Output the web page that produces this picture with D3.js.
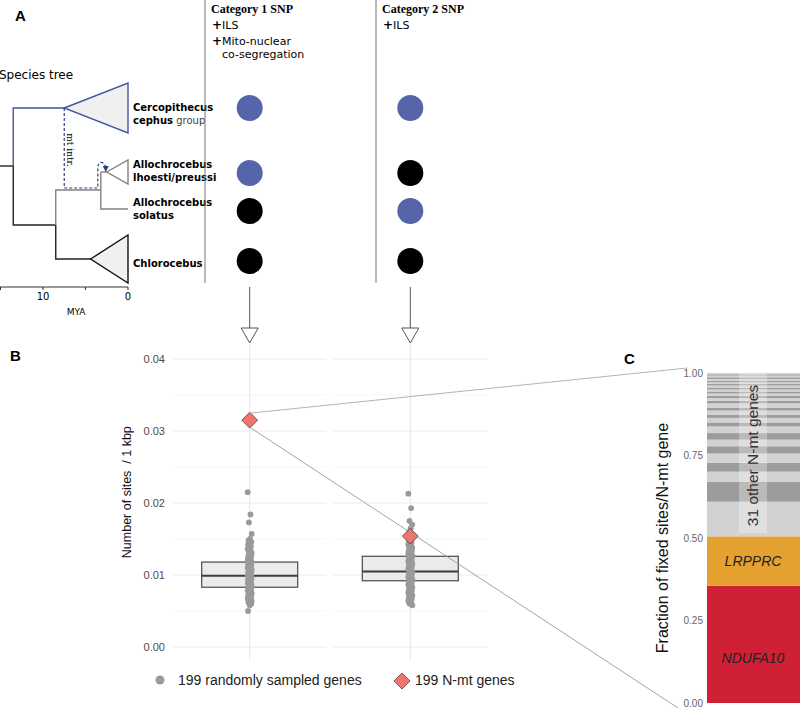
<!DOCTYPE html>
<html>
<head>
<meta charset="utf-8">
<script src="https://cdn.jsdelivr.net/npm/d3@7"></script>
<style>
body { margin: 0; background: #fff; }
svg { display: block; font-family: "Liberation Sans", Arial, sans-serif; }
</style>
</head>
<body>
<script>
// ---- data ----
var categories = ["Category 1 SNP", "Category 2 SNP"];
var categoryNotes = [["ILS", "Mito-nuclear", "co-segregation"], ["ILS"]];
var taxa = ["Cercopithecus", "Allochrocebus lhoesti", "Allochrocebus solatus", "Chlorocebus"];
// allele state per taxon: "c" = Cercopithecus-like (blue), "o" = other (black)
var cat1States = ["c", "c", "o", "o"];
var cat2States = ["c", "o", "c", "o"];

// node ages (MYA)
var rootAge = 13.5, cercoCrown = 7.5, alloChloroNode = 8.5, chloroCrown = 4.4, alloNode = 3.2, lhoestiCrown = 2.5;
var myaTicks = [15, 10, 5, 0];
var myaLabels = [10, 0];

var randomCat1 = [0.0215, 0.0184, 0.0173, 0.0157, 0.0150, 0.0148, 0.0146, 0.0144, 0.0142, 0.0140,
  0.0138, 0.0136, 0.0135, 0.0133, 0.0131, 0.0130, 0.0128, 0.0127, 0.0125, 0.0124, 0.0123, 0.0122,
  0.0121, 0.0120, 0.0119, 0.0118, 0.0117, 0.0116, 0.0115, 0.0114, 0.0113, 0.0112, 0.0111, 0.0110,
  0.0109, 0.0108, 0.0107, 0.0106, 0.0105, 0.0104, 0.0103, 0.0102, 0.0101, 0.0100, 0.0099, 0.0099,
  0.0098, 0.0097, 0.0096, 0.0095, 0.0094, 0.0093, 0.0092, 0.0091, 0.0090, 0.0089, 0.0088, 0.0087,
  0.0086, 0.0085, 0.0084, 0.0083, 0.0082, 0.0081, 0.0080, 0.0079, 0.0078, 0.0077, 0.0076, 0.0075,
  0.0074, 0.0073, 0.0072, 0.0071, 0.0070, 0.0069, 0.0068, 0.0067, 0.0066, 0.0065, 0.0064, 0.0063,
  0.0062, 0.0060, 0.0058, 0.0050];
var randomCat2 = [0.0213, 0.0193, 0.0175, 0.0170, 0.0165, 0.0160, 0.0150, 0.0148, 0.0146, 0.0145,
  0.0143, 0.0142, 0.0140, 0.0139, 0.0138, 0.0137, 0.0136, 0.0135, 0.0134, 0.0133, 0.0132, 0.0131,
  0.0130, 0.0129, 0.0128, 0.0127, 0.0126, 0.0125, 0.0124, 0.0123, 0.0122, 0.0121, 0.0120, 0.0119,
  0.0118, 0.0117, 0.0116, 0.0115, 0.0114, 0.0113, 0.0112, 0.0111, 0.0110, 0.0109, 0.0108, 0.0107,
  0.0106, 0.0105, 0.0104, 0.0103, 0.0102, 0.0101, 0.0100, 0.0099, 0.0098, 0.0097, 0.0096, 0.0095,
  0.0094, 0.0093, 0.0092, 0.0091, 0.0090, 0.0089, 0.0088, 0.0087, 0.0086, 0.0085, 0.0084, 0.0083,
  0.0082, 0.0081, 0.0080, 0.0079, 0.0078, 0.0077, 0.0076, 0.0075, 0.0074, 0.0073, 0.0072, 0.0071,
  0.0070, 0.0069, 0.0068, 0.0067, 0.0066, 0.0065, 0.0064, 0.0062, 0.0060, 0.0058];
var boxQ1 = [0.0083, 0.0092];
var boxMedian = [0.0099, 0.0105];
var boxQ3 = [0.0118, 0.0126];
var nmtValues = [0.0315, 0.0154];
var yTicksB = [0, 0.01, 0.02, 0.03, 0.04];
var yMinorB = [0.005, 0.015, 0.025, 0.035];

var fracGenes = ["NDUFA10", "LRPPRC"];
var fracValues = [0.355, 0.15];
var otherFrac = [0.105, 0.061, 0.030, 0.027, 0.028, 0.022, 0.020, 0.020, 0.020, 0.012, 0.014,
  0.010, 0.012, 0.008, 0.014, 0.008, 0.008, 0.007, 0.007, 0.006, 0.006, 0.006, 0.006, 0.005,
  0.005, 0.005, 0.005, 0.005, 0.005, 0.004, 0.004];
var yTicksC = [0, 0.25, 0.5, 0.75, 1];

// ---- svg ----
var W = 800, H = 708;
var svg = d3.select("body").append("svg").attr("width", W).attr("height", H);

var blue = "#5664a9", treeBlue = "#4653a3", brown = "#8d7d77";

// ================= Panel A =================
svg.append("text").attr("x", 15).attr("y", 21).text("A")
  .style("font-weight", "bold").style("font-size", "15px");

var xT = d3.scaleLinear().domain([15, 0]).range([0.5, 128]);
var rowY = d3.scaleOrdinal().domain(taxa).range([108, 172, 209, 259]);
var tree = svg.append("g").attr("fill", "none").attr("stroke-width", 1.4);

svg.append("text").attr("x", -1).attr("y", 79).text("Species tree").style("font-size", "12px")
  .style("font-family", "'DejaVu Sans', sans-serif");

var rootY = 166, alloChloroY = 225, alloY = 190;
function seg(d, col) { tree.append("path").attr("d", d).attr("stroke", col); }
seg("M0," + rootY + "H" + xT(rootAge), "#222");
seg("M" + xT(rootAge) + "," + rootY + "V" + rowY(taxa[0]) + "H" + xT(cercoCrown), treeBlue);
seg("M" + xT(rootAge) + "," + rootY + "V" + alloChloroY + "H" + xT(alloChloroNode), "#222");
seg("M" + xT(alloChloroNode) + "," + alloChloroY + "V" + rowY(taxa[3]) + "H" + xT(chloroCrown), "#222");
seg("M" + xT(alloChloroNode) + "," + alloChloroY + "V" + alloY + "H" + xT(alloNode), brown);
seg("M" + xT(alloNode) + "," + rowY(taxa[1]) + "V" + rowY(taxa[2]) + "H" + xT(0), brown);
seg("M" + xT(alloNode) + "," + rowY(taxa[1]) + "H" + xT(lhoestiCrown), brown);

function clade(age, y, half, col, fill) {
  tree.append("path")
    .attr("d", "M" + xT(age) + "," + y + "L" + xT(0) + "," + (y - half) + "V" + (y + half) + "Z")
    .attr("stroke", col).attr("fill", fill);
}
clade(cercoCrown, rowY(taxa[0]), 25, treeBlue, "#f0f0f0");
clade(lhoestiCrown, rowY(taxa[1]), 12, brown, "#fff");
clade(chloroCrown, rowY(taxa[3]), 24, "#111", "#f0f0f0");

// mt introgression
svg.append("defs").append("marker").attr("id", "ah").attr("viewBox", "0 0 10 10")
  .attr("refX", 5).attr("refY", 5).attr("markerWidth", 5).attr("markerHeight", 5).attr("orient", "auto")
  .append("path").attr("d", "M0,0L10,5L0,10Z").attr("fill", "#2c3c8c");
svg.append("path")
  .attr("d", "M" + xT(cercoCrown) + "," + rowY(taxa[0]) + "V188H" + (xT(alloNode) - 3) +
    "V168C" + (xT(alloNode) - 3) + ",160 " + (xT(lhoestiCrown) - 1) + ",161 " + (xT(lhoestiCrown) - 1) + ",169")
  .attr("fill", "none").attr("stroke", "#2c3c8c").attr("stroke-width", 1.2)
  .attr("stroke-dasharray", "3,2").attr("marker-end", "url(#ah)");
svg.append("text").attr("transform", "translate(67,150) rotate(90)")
  .attr("text-anchor", "middle").text("mt intr.")
  .style("font-size", "9px").style("font-family", "'DejaVu Serif', serif");

// tree axis
var axT = svg.append("g").attr("transform", "translate(0,287)");
axT.append("path").attr("d", "M0,0H" + xT(0)).attr("stroke", "#333");
axT.selectAll(".tk").data(myaTicks).enter().append("line")
  .attr("x1", xT).attr("x2", xT).attr("y1", 0).attr("y2", 3).attr("stroke", "#333");
axT.selectAll(".tl").data(myaLabels).enter().append("text")
  .attr("x", xT).attr("y", 13).attr("text-anchor", "middle").text(function (d) { return d; })
  .style("font-size", "10px").style("font-family", "'DejaVu Sans', sans-serif");
axT.append("text").attr("x", 76).attr("y", 28).attr("text-anchor", "middle").text("MYA")
  .style("font-size", "9px").style("font-family", "'DejaVu Sans', sans-serif");

// taxon labels
var lab = svg.append("g").style("font-family", "'DejaVu Sans', sans-serif").style("font-size", "10px")
  .style("font-weight", "bold");
function taxLabel(y, lines) {
  lines.forEach(function (l, i) {
    var t = lab.append("text").attr("x", 133).attr("y", y + i * 12.5);
    l.forEach(function (p) {
      t.append("tspan").text(p[0]).style("font-weight", p[1] ? "bold" : "normal")
        .attr("fill", p[1] ? "#000" : "#444");
    });
  });
}
taxLabel(rowY(taxa[0]) + 3, [[["Cercopithecus", 1]], [["cephus", 1], ["\u00a0group", 0]]]);
taxLabel(rowY(taxa[1]) - 4, [[["Allochrocebus", 1]], [["lhoesti/preussi", 1]]]);
taxLabel(rowY(taxa[2]) - 3, [[["Allochrocebus", 1]], [["solatus", 1]]]);
taxLabel(rowY(taxa[3]) + 8, [[["Chlorocebus", 1]]]);

// category columns
var xB = d3.scaleBand().domain(categories).range([173, 487]).paddingInner(0.045);
var cx = function (c) { return xB(c) + xB.bandwidth() / 2; };
var sepX = [205, 376];
var stateColor = { c: blue, o: "#000" };
var circleRows = [108, 173, 211, 261];

categories.forEach(function (c, ci) {
  svg.append("line").attr("x1", sepX[ci]).attr("x2", sepX[ci]).attr("y1", 0).attr("y2", 283)
    .attr("stroke", "#777").attr("stroke-width", 1);
  svg.append("text").attr("x", sepX[ci] + 6).attr("y", 13).text(c)
    .style("font-family", "'Liberation Serif', serif").style("font-weight", "bold").style("font-size", "12px");
  var notes = categoryNotes[ci];
  var yy = 29;
  notes.forEach(function (n, ni) {
    var newItem = !(ci === 0 && ni === 2);
    var t = svg.append("text").attr("x", sepX[ci] + (newItem ? 7 : 17)).attr("y", yy)
      .style("font-family", "'DejaVu Sans', sans-serif").style("font-size", "11px");
    if (newItem) t.append("tspan").text("+").style("font-weight", "bold").style("font-size", "12px");
    t.append("tspan").text(n);
    yy += (ni === 0 ? 15.5 : 13.5);
  });
  var st = ci === 0 ? cat1States : cat2States;
  svg.selectAll(".dot" + ci).data(st).enter().append("circle")
    .attr("cx", cx(c)).attr("cy", function (d, i) { return circleRows[i]; })
    .attr("r", 13).attr("fill", function (d) { return stateColor[d]; });
});

// ================= Panel B =================
var yB = d3.scaleLinear().domain([0, 0.04]).range([647, 359]);
svg.append("text").attr("x", 10).attr("y", 361).text("B")
  .style("font-weight", "bold").style("font-size", "15px");

var gB = svg.append("g");
categories.forEach(function (c) {
  gB.selectAll(null).data(yMinorB).enter().append("line")
    .attr("x1", xB(c)).attr("x2", xB(c) + xB.bandwidth()).attr("y1", yB).attr("y2", yB)
    .attr("stroke", "#f4f4f4").attr("stroke-width", 0.8);
  gB.selectAll(null).data(yTicksB).enter().append("line")
    .attr("x1", xB(c)).attr("x2", xB(c) + xB.bandwidth()).attr("y1", yB).attr("y2", yB)
    .attr("stroke", "#ebebeb").attr("stroke-width", 1);
  gB.append("line").attr("x1", cx(c)).attr("x2", cx(c)).attr("y1", 345).attr("y2", 660)
    .attr("stroke", "#e6e6e6");
  // arrow from column to plot
  gB.append("line").attr("x1", cx(c)).attr("x2", cx(c)).attr("y1", 287).attr("y2", 328)
    .attr("stroke", "#555");
  gB.append("path").attr("d", "M" + (cx(c) - 8.5) + ",328H" + (cx(c) + 8.5) + "L" + cx(c) + ",343Z")
    .attr("fill", "#fff").attr("stroke", "#555");
});

gB.selectAll(".ytB").data(yTicksB).enter().append("text")
  .attr("x", 165).attr("y", yB).attr("dy", "0.35em").attr("text-anchor", "end")
  .text(d3.format(".2f")).attr("fill", "#4d4d4d").style("font-size", "11px");
gB.append("text").attr("transform", "translate(131," + yB(0.0215) + ") rotate(-90)")
  .attr("text-anchor", "middle").text("Number of sites \u00a0/ 1 kbp").style("font-size", "12.5px")
  .attr("fill", "#111");

var boxHalf = 48;
categories.forEach(function (c, ci) {
  gB.append("rect").attr("x", cx(c) - boxHalf).attr("width", boxHalf * 2)
    .attr("y", yB(boxQ3[ci])).attr("height", yB(boxQ1[ci]) - yB(boxQ3[ci]))
    .attr("fill", "#ebebeb").attr("stroke", "#4a4a4a").attr("stroke-width", 1.2);
  gB.append("line").attr("x1", cx(c) - boxHalf).attr("x2", cx(c) + boxHalf)
    .attr("y1", yB(boxMedian[ci])).attr("y2", yB(boxMedian[ci]))
    .attr("stroke", "#3a3a3a").attr("stroke-width", 2);
  var vals = ci === 0 ? randomCat1 : randomCat2;
  gB.selectAll(".pt" + ci).data(vals).enter().append("circle")
    .attr("cx", function (d, i) { return cx(c) + (((i * 7) % 11) - 5) * 0.4; })
    .attr("cy", yB).attr("r", 2.9).attr("fill", "#9a9a9a");
});

function drawDiamond(g, x, y, s) {
  g.append("path").attr("d", d3.symbol().type(d3.symbolSquare).size(s)())
    .attr("transform", "translate(" + x + "," + y + ") rotate(45)")
    .attr("fill", "#f07470").attr("stroke", "#5a2e2e").attr("stroke-width", 0.7);
}

// zoom lines to panel C
var yC = d3.scaleLinear().domain([0, 1]).range([703, 373]);
var xC0 = 707;
var zl = svg.append("g").attr("stroke", "#aaa").attr("stroke-width", 0.9);
zl.append("line").attr("x1", cx(categories[0])).attr("y1", yB(nmtValues[0]) - 7)
  .attr("x2", xC0 - 20).attr("y2", yC(1) - 5);

categories.forEach(function (c, ci) {
  drawDiamond(gB, cx(c), yB(nmtValues[ci]), 125);
});
// lower zoom line crosses over the second diamond
svg.append("line").attr("x1", cx(categories[0])).attr("y1", yB(nmtValues[0]) + 7)
  .attr("x2", 678).attr("y2", 708).attr("stroke", "#999").attr("stroke-width", 0.9);

// legend
var lg = svg.append("g").style("font-size", "14px").attr("fill", "#222");
lg.append("circle").attr("cx", 160).attr("cy", 680).attr("r", 4.5).attr("fill", "#9a9a9a");
lg.append("text").attr("x", 178).attr("y", 685).text("199 randomly sampled genes");
drawDiamond(lg, 402, 681, 130);
lg.append("text").attr("x", 415).attr("y", 685).text("199 N-mt genes");

// ================= Panel C =================
svg.append("text").attr("x", 624).attr("y", 364).text("C")
  .style("font-weight", "bold").style("font-size", "15px");

var stackVals = fracValues.concat(otherFrac);
var cum = d3.cumsum(stackVals);
var stackCols = ["#cf2035", "#e5a12f"];
var gC = svg.append("g");
gC.selectAll("rect").data(stackVals).enter().append("rect")
  .attr("x", xC0).attr("width", W - xC0)
  .attr("y", function (d, i) { return yC(cum[i]); })
  .attr("height", function (d) { return yC(0) - yC(d); })
  .attr("fill", function (d, i) {
    if (i < 2) return stackCols[i];
    return (i - 2) % 2 === 0 ? "#d2d2d2" : "#9c9c9c";
  });

gC.append("rect").attr("x", 739).attr("width", 28).attr("y", yC(1)).attr("height", yC(0.515) - yC(1))
  .attr("fill", "#fff").attr("opacity", 0.3);
gC.append("text").attr("transform", "translate(753," + yC(0.75) + ") rotate(-90)")
  .attr("text-anchor", "middle").attr("dy", "0.35em").text("31 other N-mt genes")
  .style("font-size", "15.5px").attr("fill", "#333");
gC.append("text").attr("x", 753).attr("y", yC(fracValues[0] + fracValues[1] / 2)).attr("dy", "0.35em")
  .attr("text-anchor", "middle").text(fracGenes[1]).style("font-style", "italic").style("font-size", "14px")
  .attr("fill", "#222");
gC.append("text").attr("x", 753).attr("y", yC(fracValues[0] * 0.5 - 0.04)).attr("dy", "0.35em")
  .attr("text-anchor", "middle").text(fracGenes[0]).style("font-style", "italic").style("font-size", "14px")
  .attr("fill", "#222");

gC.selectAll(".ytC").data(yTicksC).enter().append("text")
  .attr("x", 703).attr("y", yC).attr("dy", "0.35em").attr("text-anchor", "end")
  .text(d3.format(".2f")).attr("fill", "#666").style("font-size", "10px");
gC.append("text").attr("transform", "translate(668," + yC(0.5) + ") rotate(-90)")
  .attr("text-anchor", "middle").text("Fraction of fixed sites/N-mt gene")
  .style("font-size", "16px").attr("fill", "#111");
</script>
</body>
</html>
